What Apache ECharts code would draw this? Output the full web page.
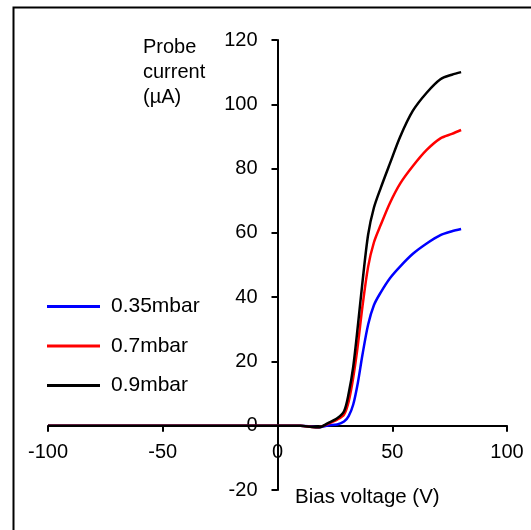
<!DOCTYPE html>
<html>
<head>
<meta charset="utf-8">
<script src="https://cdn.jsdelivr.net/npm/echarts@6/dist/echarts.min.js"></script>
<style>
  html, body { margin: 0; padding: 0; background: #fff; }
  #chart { width: 531px; height: 530px; }
</style>
</head>
<body>
<div id="chart"></div>
<script>
  // bias voltage (V), shared by all curves
  const voltage = [-100, -50, 0, 10, 15, 18, 22, 26, 29, 31, 33, 35, 37, 39.5, 42, 45, 49, 53.5, 59, 65, 71, 76, 80]
  // probe current (µA)
  const cur035 = [0, 0, 0, 0, -0.3, -0.5, 0.1, 0.4, 1.3, 3, 6.6, 13.3, 22, 31.5, 37.5, 41.5, 45.9, 49.6, 53.5, 56.7, 59.3, 60.5, 61.2]
  const cur07 = [0, 0, 0, 0, -0.4, -0.5, 0.6, 1.9, 3.5, 7.5, 15, 25, 37, 49.5, 57, 62.5, 69.3, 75.4, 80.8, 85.8, 89.4, 90.8, 92]
  const cur09 = [0, 0, 0, 0, -0.4, -0.5, 0.8, 2.3, 4.5, 10, 18.4, 31, 44.5, 59.5, 67.8, 74, 81.6, 90, 98, 103.6, 107.8, 109.2, 110]
  const seriesNames = ['0.35mbar', '0.7mbar', '0.9mbar']
  const seriesColors = ['#0000ff', '#ff0000', '#000000']
  const xTicks = { min: -100, max: 100, step: 50 }
  const yTicks = { min: -20, max: 120, step: 20 }

  const font = 'Liberation Sans, Arial, sans-serif'
  const pairs = (ys) => voltage.map((v, i) => [v, ys[i]])

  // grid box
  const gLeft = 48, gRight = 24, gTop = 40, gBottom = 40
  const gW = 531 - gLeft - gRight, gH = 530 - gTop - gBottom
  // the axes cross at zero, so shift them in from the grid edges
  const xAxisShift = gH * (0 - yTicks.min) / (yTicks.max - yTicks.min)
  const yAxisShift = gW * (0 - xTicks.min) / (xTicks.max - xTicks.min)

  const chart = echarts.init(document.getElementById('chart'))
  chart.setOption({
    animation: false,
    grid: { left: gLeft, right: gRight, top: gTop, bottom: gBottom },
    xAxis: {
      type: 'value',
      position: 'bottom',
      offset: -xAxisShift,
      min: xTicks.min, max: xTicks.max, interval: xTicks.step,
      axisLine: { onZero: false, lineStyle: { color: '#000', width: 2 } },
      axisTick: { show: true, length: 6, lineStyle: { color: '#000', width: 2 } },
      axisLabel: { color: '#000', fontSize: 20, fontFamily: font, margin: 17 },
      splitLine: { show: false }
    },
    yAxis: {
      type: 'value',
      position: 'left',
      offset: -yAxisShift,
      min: yTicks.min, max: yTicks.max, interval: yTicks.step,
      axisLine: { show: true, onZero: false, lineStyle: { color: '#000', width: 2 } },
      axisTick: { show: true, length: 6, lineStyle: { color: '#000', width: 2 } },
      axisLabel: { color: '#000', fontSize: 20, fontFamily: font, margin: 20 },
      splitLine: { show: false }
    },
    legend: {
      orient: 'vertical',
      left: 47,
      top: 296,
      padding: 0,
      icon: 'rect',
      itemWidth: 53,
      itemHeight: 3,
      itemGap: 18.5,
      textStyle: { color: '#000', fontSize: 21, fontFamily: font, lineHeight: 20, padding: [0, 0, 0, 6] },
      data: seriesNames
    },
    graphic: [
      {
        type: 'rect', left: 11, top: 5, silent: true,
        shape: { width: 560, height: 560 },
        style: { fill: 'none', stroke: '#000', lineWidth: 2 }
      },
      {
        type: 'text', left: 143, top: 35,
        style: { text: 'Probe\ncurrent\n(µA)', fill: '#000', fontSize: 20, fontFamily: font, lineHeight: 25 }
      },
      {
        type: 'text', left: 295, top: 485,
        style: { text: 'Bias voltage (V)', fill: '#000', fontSize: 20.5, fontFamily: font, lineHeight: 24 }
      }
    ],
    series: [cur035, cur07, cur09].map((ys, i) => ({
      name: seriesNames[i],
      type: 'line',
      data: pairs(ys),
      symbol: 'none',
      smooth: 0.3,
      color: seriesColors[i],
      lineStyle: { width: 2.5, color: seriesColors[i] }
    }))
  })
</script>
</body>
</html>
